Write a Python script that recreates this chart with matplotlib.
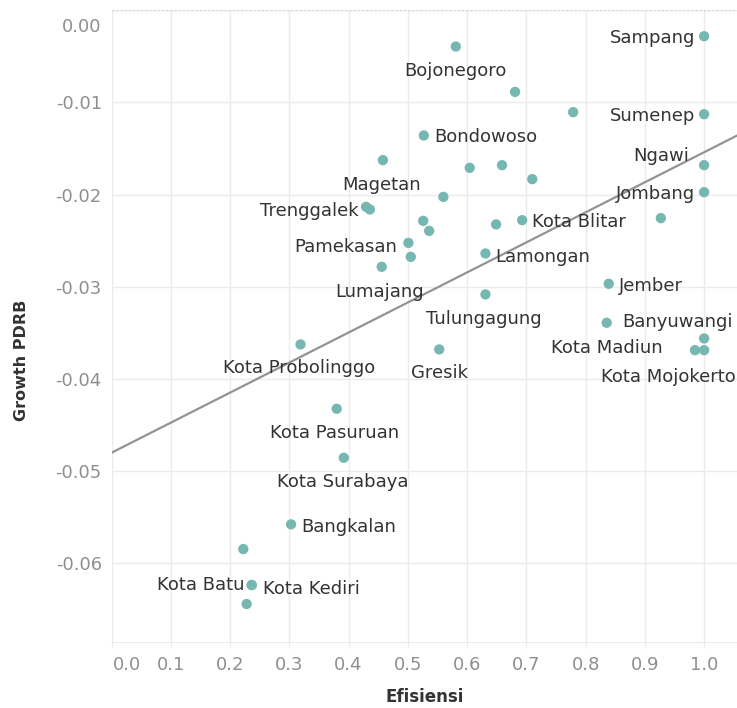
import numpy as np
import matplotlib
matplotlib.use("Agg")
import matplotlib.pyplot as plt
import matplotlib.transforms as mtransforms

# efisiensi vs growth PDRB, kabupaten/kota Jawa Timur
names = ["Sampang", "Bojonegoro", "", "", "Sumenep", "Bondowoso", "Magetan", "", "", "",
         "Ngawi", "Jombang", "", "Trenggalek", "", "", "", "", "Kota Blitar", "",
         "Pamekasan", "", "Lumajang", "Lamongan", "Jember", "Tulungagung", "Banyuwangi",
         "Kota Madiun", "", "Kota Mojokerto", "Gresik", "Kota Probolinggo", "Kota Pasuruan",
         "Kota Surabaya", "Bangkalan", "", "Kota Batu", "Kota Kediri", ""]
efisiensi = [1.000, 0.581, 0.681, 0.779, 1.000, 0.527, 0.458, 0.6045, 0.659, 0.710,
             1.000, 1.000, 0.560, 0.4295, 0.436, 0.526, 0.536, 0.649, 0.693, 0.927,
             0.501, 0.505, 0.456, 0.631, 0.839, 0.631, 0.8356,
             1.000, 0.9846, 1.000, 0.553, 0.319, 0.380,
             0.392, 0.303, 0.2224, 0.2366, 0.2366, 0.228]
growth = [-0.00281, -0.00393, -0.00885, -0.01105, -0.01127, -0.01358, -0.01626, -0.01709, -0.01680, -0.01832,
          -0.01680, -0.01973, -0.02024, -0.02132, -0.02161, -0.02284, -0.02393, -0.02323, -0.02277, -0.02255,
          -0.02523, -0.02675, -0.02783, -0.02638, -0.02967, -0.03082, -0.03390,
          -0.03560, -0.03687, -0.03687, -0.03679, -0.03625, -0.04323,
          -0.04855, -0.05577, -0.05845, -0.06235, -0.06235, -0.06441]

# trend line
trend_intercept = -0.0480
trend_slope = 0.0326

# label placement (offset in pixels, alignment)
label_pos = {
    "Sampang": (-9, 0, "right"), "Bojonegoro": (0, -22, "center"),
    "Sumenep": (-9, 0, "right"), "Bondowoso": (10, 0, "left"),
    "Magetan": (-1, -23, "center"), "Ngawi": (-15, 11, "right"),
    "Jombang": (-9, 0, "right"), "Trenggalek": (-7, -2, "right"),
    "Kota Blitar": (10, 0, "left"), "Pamekasan": (-11, -2, "right"),
    "Lamongan": (10, -2, "left"), "Lumajang": (-2, -23, "center"),
    "Jember": (10, 0, "left"), "Tulungagung": (-2, -23, "center"),
    "Banyuwangi": (16, 3, "left"), "Kota Madiun": (-41, -8, "right"),
    "Kota Mojokerto": (32, -25, "right"), "Gresik": (0, -22, "center"),
    "Kota Probolinggo": (-1, -22, "center"), "Kota Pasuruan": (-2, -22, "center"),
    "Kota Surabaya": (-1, -22, "center"), "Bangkalan": (10, -1, "left"),
    "Kota Batu": (-7, 2, "right"), "Kota Kediri": (11, -2, "left"),
}

W, H = 737, 708
fig = plt.figure(figsize=(W / 100, H / 100), dpi=100)
ax = fig.add_axes([111.5 / W, 1 - 641.7 / H, (W - 111.5) / W, (641.7 - 10.3) / H])

ax.set_xlim(0, 1.0555)
ax.set_ylim(-0.0685, 0.0)

grid_c = "#ebebeb"
ax.set_xticks(np.arange(0, 1.01, 0.1))
ax.set_yticks([0.0, -0.01, -0.02, -0.03, -0.04, -0.05, -0.06])
ax.set_xticklabels(["%.1f" % v for v in np.arange(0, 1.01, 0.1)])
ax.set_yticklabels(["0.00", "-0.01", "-0.02", "-0.03", "-0.04", "-0.05", "-0.06"])
ax.grid(True, color=grid_c, lw=1)
ax.set_axisbelow(True)
ax.tick_params(axis="x", length=4, color=grid_c, pad=6, labelsize=13, labelcolor="#8f8f8f")
ax.tick_params(axis="y", length=0, pad=7, labelsize=13, labelcolor="#8f8f8f")
for s in ["left", "right", "top"]:
    ax.spines[s].set_visible(False)
ax.spines["bottom"].set_color(grid_c)
ax.axhline(0, color="#cfcfcf", lw=1, ls=(0, (1, 2)), zorder=1)

# shift the first tick labels inside the plot like the original
lx = ax.get_xticklabels()[0]
lx.set_transform(lx.get_transform() + mtransforms.ScaledTranslation(16 / 100, 0, fig.dpi_scale_trans))
ly = ax.get_yticklabels()[0]
ly.set_transform(ly.get_transform() + mtransforms.ScaledTranslation(0, -15 / 100, fig.dpi_scale_trans))

xs = np.array([0, 1.0555])
ax.plot(xs, trend_intercept + trend_slope * xs, color="#939393", lw=1.6, zorder=2)

ax.scatter(efisiensi, growth, s=55, color="#76b7b2", edgecolors="none", zorder=3)

for n, x, y in zip(names, efisiensi, growth):
    if not n:
        continue
    dx, dy, ha = label_pos[n]
    ax.annotate(n, (x, y), xytext=(dx, dy), textcoords="offset pixels",
                ha=ha, va="center_baseline", fontsize=13, color="#333333", zorder=4,
                annotation_clip=False)

fig.text(425 / W, 1 - 697 / H, "Efisiensi", ha="center", va="center",
         fontsize=12, fontweight="bold", color="#333333")
fig.text(22 / W, 1 - 360 / H, "Growth PDRB", ha="center", va="center", rotation=90,
         fontsize=11.5, fontweight="bold", color="#333333")

fig.savefig("out.png", dpi=100)
